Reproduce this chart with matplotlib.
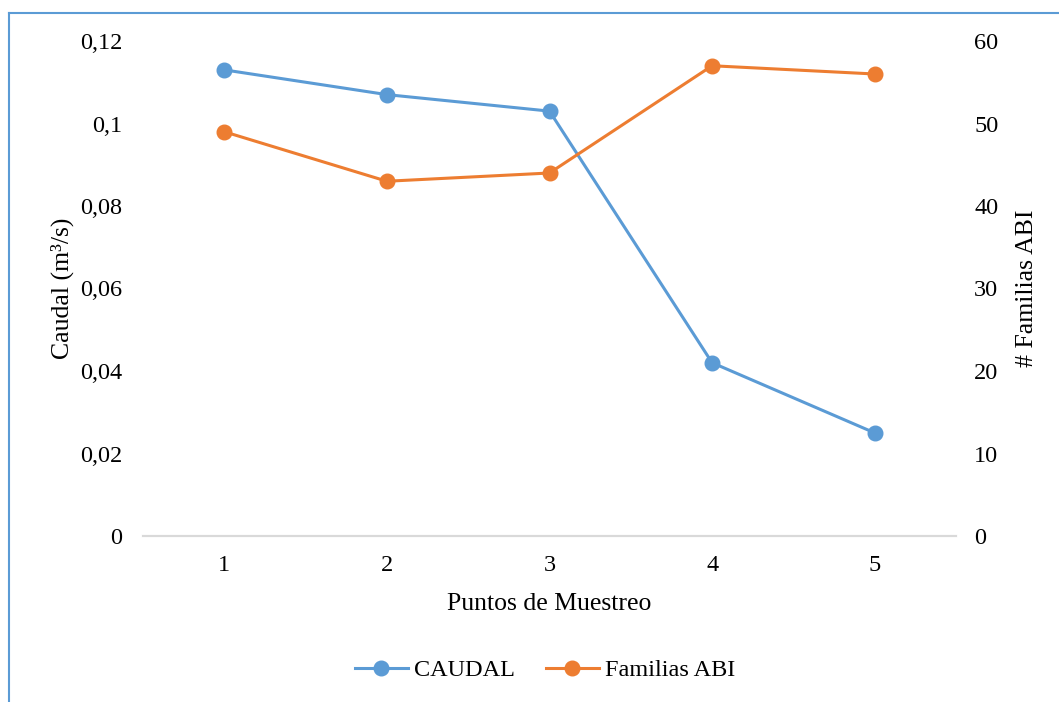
import matplotlib
matplotlib.use("Agg")
import matplotlib.pyplot as plt
from matplotlib.lines import Line2D

plt.rcParams['font.family'] = ['Liberation Serif', 'DejaVu Serif']

puntos = [1, 2, 3, 4, 5]
caudal = [0.113, 0.107, 0.103, 0.042, 0.025]
familias_abi = [49, 43, 44, 57, 56]

left_ticks = [0, 0.02, 0.04, 0.06, 0.08, 0.1, 0.12]
left_labels = ['0', '0,02', '0,04', '0,06', '0,08', '0,1', '0,12']
right_ticks = [0, 10, 20, 30, 40, 50, 60]

BLUE = '#5B9BD5'
ORANGE = '#ED7D31'
W, H = 1059, 702

fig = plt.figure(figsize=(W / 100, H / 100), dpi=100)
ax = fig.add_axes([143 / W, 1 - 536 / H, (956 - 143) / W, (536 - 41) / H])
ax2 = ax.twinx()

l1, = ax.plot(puntos, caudal, color=BLUE, lw=2.2, marker='o', ms=10.5,
              label='CAUDAL', zorder=3)
l2, = ax2.plot(puntos, familias_abi, color=ORANGE, lw=2.2, marker='o', ms=10.5,
               label='Familias ABI', zorder=3)

ax.set_xlim(0.5, 5.5)
ax.set_ylim(0, 0.12)
ax2.set_ylim(0, 60)
ax.set_xticks(puntos)
ax.set_yticks(left_ticks)
ax.set_yticklabels(left_labels)
ax2.set_yticks(right_ticks)

for a in (ax, ax2):
    for s in ('top', 'left', 'right'):
        a.spines[s].set_visible(False)
    a.spines['bottom'].set_color('#D9D9D9')
    a.spines['bottom'].set_linewidth(1.5)
    a.tick_params(length=0, labelsize=17.5, colors='black')
ax.tick_params(axis='y', pad=15)
ax2.tick_params(axis='y', pad=13)
ax.tick_params(axis='x', pad=14)

ax.set_xlabel('Puntos de Muestreo', fontsize=18.5, labelpad=12)
ax.set_ylabel('Caudal (m³/s)', fontsize=18.5, labelpad=4)
ax2.set_ylabel('# Familias ABI', fontsize=18.5, labelpad=13)

fig.legend(handles=[l1, l2], loc='center', bbox_to_anchor=(545 / W, 1 - 670 / H),
           ncol=2, frameon=False, fontsize=17.5, handlelength=2.2,
           columnspacing=1.25, handletextpad=0.25)

# chart frame (left and top edges)
fig.add_artist(Line2D([8.5 / W, 8.5 / W], [0, 1 - 13 / H], color=BLUE, lw=1.5,
                      transform=fig.transFigure))
fig.add_artist(Line2D([8.5 / W, 1], [1 - 13 / H, 1 - 13 / H], color=BLUE, lw=1.5,
                      transform=fig.transFigure))

fig.savefig('out.png', dpi=100)
